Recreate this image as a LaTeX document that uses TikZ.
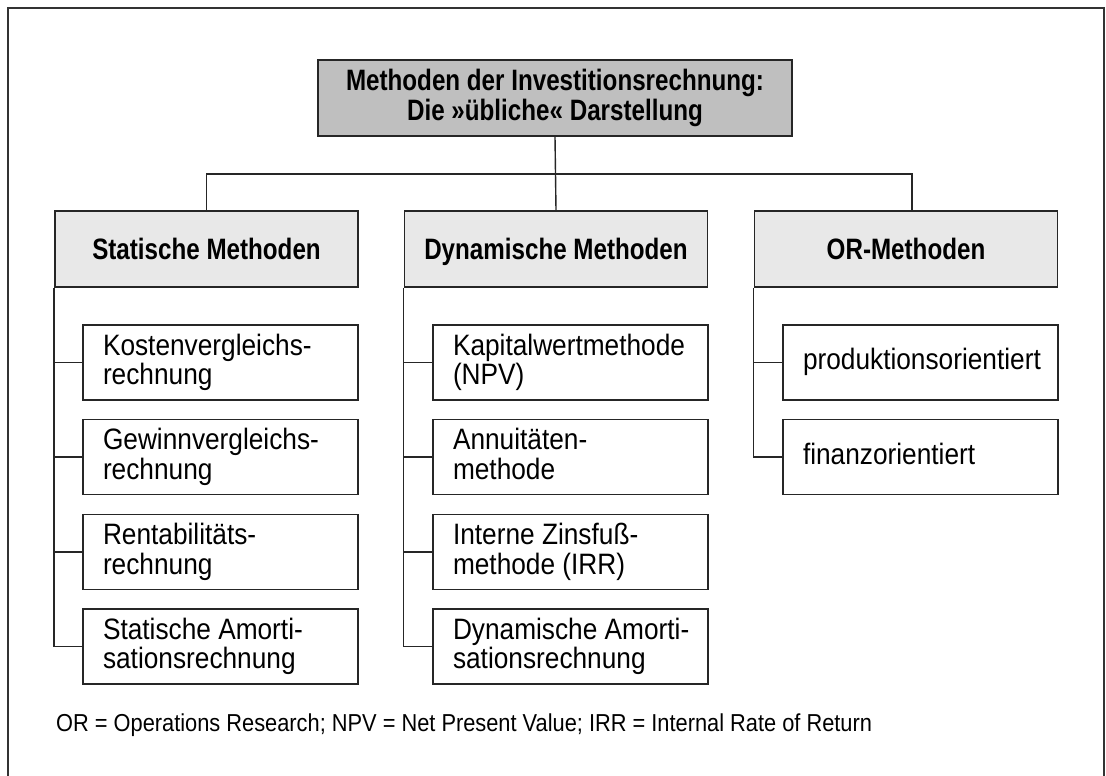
\documentclass[tikz,border=0pt]{standalone}
\usepackage{fontspec}
\setmainfont{Liberation Sans}[FakeStretch=0.89, BoldFeatures={FakeStretch=0.82}]
\newlength{\boxtextindent}
\setlength{\boxtextindent}{14pt}
\newcommand{\setboxindent}{\leftskip=\boxtextindent\relax}
\begin{document}
\begin{tikzpicture}[x=1pt,y=-1pt,
  box/.style={draw=black!85, line width=1.8pt},
  titlebox/.style={box, fill=black!25, minimum width=474pt, minimum height=76pt, align=flush center, inner sep=0pt, font=\fontsize{29.5}{30.5}\selectfont\bfseries},
  headbox/.style={box, fill=black!9, minimum width=303pt, minimum height=76pt, inner sep=0pt, text height=21pt, text depth=0pt, font=\fontsize{29.5}{30}\selectfont\bfseries},
  itembox/.style={box, fill=white, text width=263pt, inner xsep=6pt, inner ysep=0pt, minimum height=75pt, text depth=36pt, align=flush left, font=\fontsize{29.5}{29.5}\selectfont, execute at begin node=\setboxindent},
  oneline/.style={text depth=6.5pt},
  conn/.style={draw=black!85, line width=1.4pt},
  frame/.style={draw=black!80, line width=2pt},
  note/.style={anchor=west, inner sep=0pt, font=\fontsize{24.5}{28}\selectfont}]
\useasboundingbox (0,0) rectangle (1106,776);
\draw[frame] (8,776) -- (8,8) -- (1104,8) -- (1104,776);

\node[titlebox] (title) at (555,98) {Methoden der Investitionsrechnung:\\Die »übliche« Darstellung};

\node[headbox] (stat) at (206.5,249) {Statische Methoden};
\node[headbox] (dyn) at (556,249) {Dynamische Methoden};
\node[headbox] (orh) at (906,249) {OR-Methoden};

\node[itembox] (s1) at (220.5,362.5) {Kostenvergleichs-\\rechnung};
\node[itembox] (s2) at (220.5,457) {Gewinnvergleichs-\\rechnung};
\node[itembox] (s3) at (220.5,552) {Rentabilitäts-\\rechnung};
\node[itembox] (s4) at (220.5,646.5) {Statische Amorti-\\sationsrechnung};

\node[itembox] (d1) at (570.5,362.5) {Kapitalwertmethode\\(NPV)};
\node[itembox] (d2) at (570.5,457) {Annuitäten-\\methode};
\node[itembox] (d3) at (570.5,552) {Interne Zinsfuß-\\methode (IRR)};
\node[itembox] (d4) at (570.5,646.5) {Dynamische Amorti-\\sationsrechnung};

\node[itembox, oneline] (o1) at (920.5,362.5) {produktionsorientiert};
\node[itembox, oneline] (o2) at (920.5,457) {finanzorientiert};

\node[note] (fn) at (56,725) {OR = Operations Research; NPV = Net Present Value; IRR = Internal Rate of Return};

\coordinate (busL) at (206.5,174);
\coordinate (busR) at (912,174);
\coordinate (orj) at (912,211);
\draw[conn] (title.south) -- (dyn.north);
\draw[conn] (stat.north) -- (busL) -- (busR) -- (orj);

\draw[conn] (stat.south west) |- (s4.west);
\foreach \i in {1,2,3} \draw[conn] (s\i.west) -- (s\i.west -| stat.south west);
\draw[conn] (dyn.south west) |- (d4.west);
\foreach \i in {1,2,3} \draw[conn] (d\i.west) -- (d\i.west -| dyn.south west);
\draw[conn] (orh.south west) |- (o2.west);
\draw[conn] (o1.west) -- (o1.west -| orh.south west);
\end{tikzpicture}
\end{document}
